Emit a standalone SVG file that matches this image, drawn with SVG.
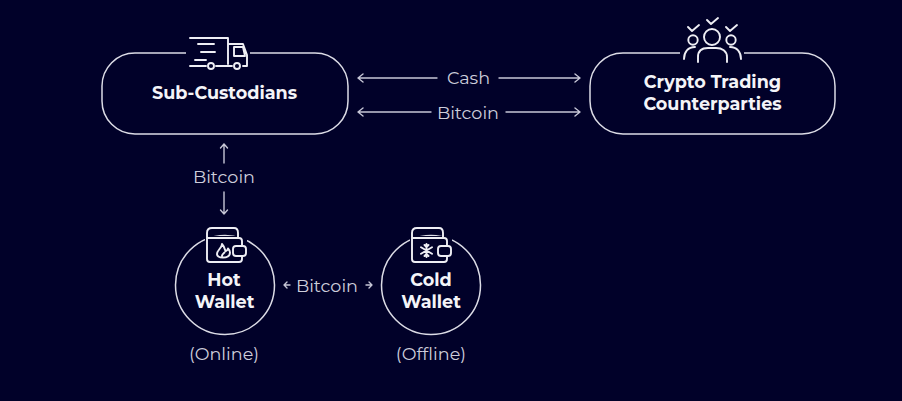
<svg xmlns="http://www.w3.org/2000/svg" width="902" height="401" viewBox="0 0 902 401">
<defs>
<style>
.s{fill:none;stroke:#dcdce6;stroke-width:1.5;stroke-linecap:round;stroke-linejoin:round}
.i{fill:none;stroke:#eeeef4;stroke-width:1.9;stroke-linecap:round;stroke-linejoin:round}
.c{fill:none;stroke:#c6c6d6;stroke-width:1.4;stroke-linecap:round;stroke-linejoin:round}
.b{font-family:Montserrat,Inter,"Open Sans",sans-serif;font-weight:700;font-size:17.6px;fill:#f4f4f8;text-anchor:middle}
.l{font-family:Montserrat,Inter,"Open Sans",sans-serif;font-weight:400;font-size:17.6px;fill:#cdcddb;text-anchor:middle}
</style>
</defs>
<rect width="902" height="401" fill="#010129"/>
<g id="connectors">
<path class="c" d="M358 78H437M363 74L358 78L363 82M499 78H580M575 74L580 78L575 82"/>
<path class="c" d="M358 112H431M363 108L358 112L363 116M506 112H580M575 108L580 112L575 116"/>
<path class="c" d="M224 144V163M220.500 148L224 144L227.500 148M224 192V214M220.500 210L224 214L227.500 210"/>
<path class="c" d="M284 285H290M287 282L284 285L287 288M366 285H372M369 282L372 285L369 288"/>
<text class="l" x="468.500" y="84">Cash</text>
<text class="l" x="468" y="118.500">Bitcoin</text>
<text class="l" x="224" y="183">Bitcoin</text>
<text class="l" x="327" y="291.500">Bitcoin</text>
</g>
<g id="sub-custodians">
<rect class="s" x="102" y="53" width="246" height="81" rx="33"/>
<rect x="186" y="46" width="64" height="16" fill="#010129"/>
<path class="i" d="M190 38H228V64M198 44H214M201 52H215M195 60H206M190 66H206M216 66H232M229 44H243L247 55V66H243M234 47H243L245 56H234Z"/>
<circle class="i" cx="211" cy="66" r="3"/><circle class="i" cx="237" cy="66" r="3"/>
<text class="b" x="224.500" y="98.500">Sub-Custodians</text>
</g>
<g id="counterparties">
<rect class="s" x="590" y="53" width="245" height="81" rx="33"/>
<rect x="680" y="46" width="64" height="16" fill="#010129"/>
<path class="i" d="M684 59C684 52 688 47 695 47M698 62V57C698 51 702 48 708 48H716C722 48 727 51 727 57V62M730 47C737 47 741 52 741 59"/>
<circle class="i" cx="712" cy="37" r="8"/><circle class="i" cx="693" cy="40" r="4.700"/><circle class="i" cx="731" cy="40" r="4.700"/>
<path class="i" d="M707 20L711 24L718 18M688 27L692 31L699 25M726 27L730 31L737 25"/>
<text class="b" x="712.500" y="87.500">Crypto Trading</text>
<text class="b" x="712.500" y="109.500">Counterparties</text>
</g>
<g id="hot-wallet">
<circle class="s" cx="225" cy="285" r="49.500"/>
<rect x="205" y="236" width="42" height="29" fill="#010129"/>
<path class="i" d="M207 238V233C207 230 209 228 212 228H234C237 228 238 230 238 233V238M207 238V259C207 261 208 262 210 262H239C241 262 242 261 242 259V256M207 238H239C241 238 242 239 242 241V246"/>
<rect class="i" x="233" y="246" width="13" height="10" rx="3" fill="#010129"/>
<path class="i" d="M222 244C222 248 217 250 217 254C217 257 220 257.500 223 257.500C227 257.500 230 256 230 252.500C230 250.500 228.500 249 228 248.500C227.500 250 226.500 251 225.500 251C225 249 224 246 222 244ZM222 256C222 254 223.500 253.500 224.500 252.500"/>
<text class="b" x="224" y="285.500">Hot</text>
<text class="b" x="224.500" y="307.500">Wallet</text>
</g>
<g id="cold-wallet">
<circle class="s" cx="431" cy="285" r="49.500"/>
<rect x="410" y="236" width="42" height="29" fill="#010129"/>
<path class="i" d="M412 238V233C412 230 414 228 417 228H439C442 228 443 230 443 233V238M412 238V259C412 261 413 262 415 262H444C446 262 447 261 447 259V256M412 238H444C446 238 447 239 447 241V246"/>
<rect class="i" x="438" y="246" width="13" height="10" rx="3" fill="#010129"/>
<path class="i" d="M426.500 244V257M421 247.200L432 253.800M421 253.800L432 247.200M424.500 245L426.500 247L428.500 245M424.500 256L426.500 254L428.500 256"/>
<text class="b" x="431" y="285.500">Cold</text>
<text class="b" x="431" y="307.500">Wallet</text>
</g>
<text class="l" x="224" y="359.500">(Online)</text>
<text class="l" x="431" y="359.500">(Offline)</text>
</svg>
